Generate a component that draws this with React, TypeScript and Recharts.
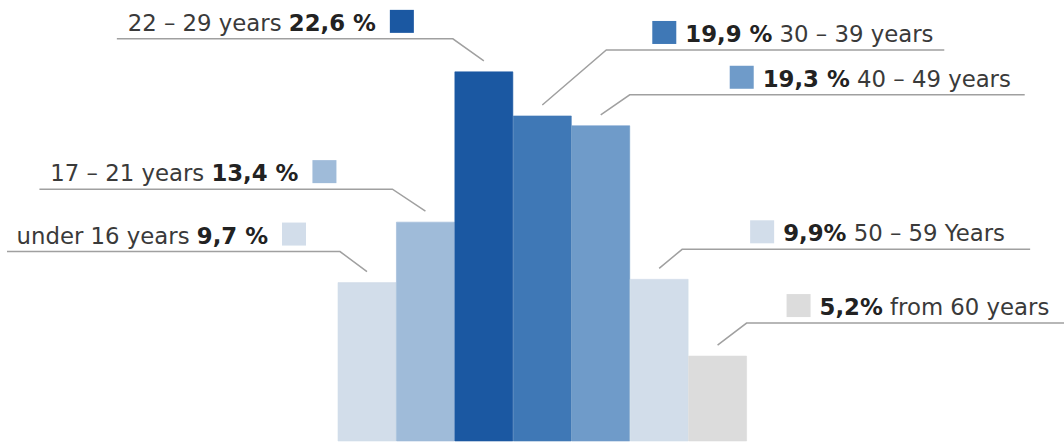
import { BarChart, Bar, XAxis, YAxis, Cell, LabelList } from "recharts";

const ageGroups = [
  "under 16 years",
  "17 – 21 years",
  "22 – 29 years",
  "30 – 39 years",
  "40 – 49 years",
  "50 – 59 Years",
  "from 60 years",
];
const shares = [9.7, 13.4, 22.6, 19.9, 19.3, 9.9, 5.2];
const shareLabels = ["9,7 %", "13,4 %", "22,6 %", "19,9 %", "19,3 %", "9,9%", "5,2%"];

const barColors = ["#d2ddea", "#9fbbd9", "#1b58a2", "#3f78b6", "#6f9bc9", "#d2ddea", "#dcdcdc"];

// callout placement, relative to bar centre / bar top
const callouts = [
  { side: "left", lineY: -31, x1: -360, x2: -27, sq: -85 },
  { side: "left", lineY: -33, x1: -386, x2: -33, sq: -113 },
  { side: "left", lineY: -33, x1: -367, x2: -31, sq: -94 },
  { side: "right", lineY: -66, x1: 64, x2: 402, sq: 110 },
  { side: "right", lineY: -31, x1: 29, x2: 424, sq: 129 },
  { side: "right", lineY: -30, x1: 23, x2: 371, sq: 91 },
  { side: "right", lineY: -33, x1: 29, x2: 350, sq: 69 },
];

const data = ageGroups.map((name, i) => ({ name, share: shares[i] }));

const Callout = (props: any) => {
  const vb = props.viewBox && props.viewBox.width != null ? props.viewBox : props;
  const { x, y, width } = vb;
  const i = props.index;
  const c = callouts[i];
  if (!c) return null;
  const cx = x + width / 2;
  const ly = y + c.lineY;
  const endY = y - 11;
  const sqX = cx + c.sq;
  const pts =
    c.side === "left"
      ? `${cx + c.x1},${ly} ${cx + c.x2},${ly} ${cx},${endY}`
      : `${cx + c.x2},${ly} ${cx + c.x1},${ly} ${cx},${endY}`;
  return (
    <g>
      <polyline points={pts} fill="none" stroke="#a0a0a0" strokeWidth={1.5} />
      <rect x={sqX} y={ly - 29} width={24} height={23} fill={barColors[i]} />
      {c.side === "left" ? (
        <text x={sqX - 14} y={ly - 8} textAnchor="end" fontFamily="DejaVu Sans" fontSize={22.8} fill="#3a3a3a">
          <tspan>{ageGroups[i]} </tspan>
          <tspan fontWeight="bold" fill="#222">{shareLabels[i]}</tspan>
        </text>
      ) : (
        <text x={sqX + 33} y={ly - 8} textAnchor="start" fontFamily="DejaVu Sans" fontSize={22.8} fill="#3a3a3a">
          <tspan fontWeight="bold" fill="#222">{shareLabels[i]}</tspan>
          <tspan> {ageGroups[i]}</tspan>
        </text>
      )}
    </g>
  );
};

export default function App() {
  return (
    <div style={{ position: "absolute", left: 0, top: 0, background: "#fff" }}>
      <BarChart
        width={1064}
        height={445}
        data={data}
        margin={{ top: 0, right: 317, bottom: 4, left: 338 }}
        barCategoryGap={0}
        style={{ overflow: "visible" }}
      >
        <XAxis dataKey="name" hide />
        <YAxis hide domain={[0, 27]} />
        <Bar dataKey="share" isAnimationActive={false}>
          {data.map((d, i) => (
            <Cell key={d.name} fill={barColors[i]} stroke={barColors[i]} strokeWidth={0.6} />
          ))}
          <LabelList dataKey="share" content={<Callout />} />
        </Bar>
      </BarChart>
    </div>
  );
}
